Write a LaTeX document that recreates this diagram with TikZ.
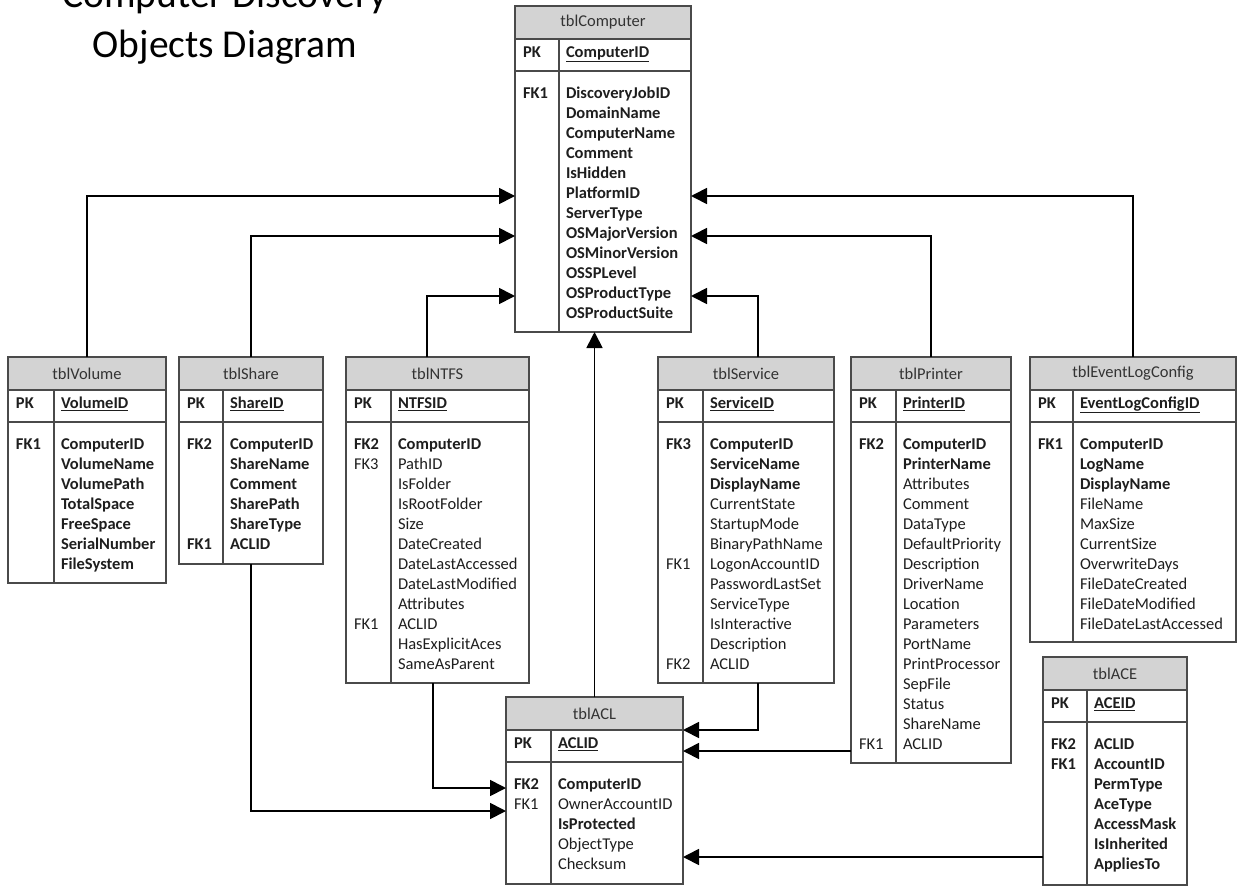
\documentclass[tikz,border=0pt]{standalone}
\usepackage{fontspec}
\setmainfont{Carlito}
\usetikzlibrary{arrows.meta,calc}
\definecolor{hdrgray}{HTML}{D3D3D3}
\definecolor{bordergray}{HTML}{4A4A4A}
\definecolor{txtgray}{HTML}{1E1E1E}
\def\fwb{\fontsize{16.5}{20}\selectfont\bfseries}
\def\fwn{\fontsize{16.5}{20}\selectfont\mdseries}
\tikzset{
  txt/.style={anchor=mid west, inner sep=0pt, outer sep=0pt, text=txtgray},
  hdrbox/.style={draw=bordergray, line width=1.2pt, fill=hdrgray, minimum height=33pt, inner sep=0pt, outer sep=0pt, text=black!80, font=\fwn},
  tblbox/.style={draw=bordergray, line width=1.2pt, inner sep=0pt, outer sep=0pt},
  tblline/.style={draw=bordergray, line width=1.2pt},
  conn/.style={line width=1.7pt, black, -{Triangle[length=16pt,width=16pt]}}
}
% name, L, T, R, B, divider x, title, pk field, fields
\newcommand\erdtable[9]{%
  \node[hdrbox, minimum width={(#4-#2)*1pt}, anchor=north west] (#1-h) at (#2,#3) {#7};
  \node[tblbox, minimum width={(#4-#2)*1pt}, minimum height={(#5-#3)*1pt}, anchor=north west] (#1) at (#2,#3) {};
  \draw[tblline] (#2,#3+65) -- (#4,#3+65);
  \draw[tblline] (#6,#3+33) -- (#6,#5);
  \node[txt, font=\fwb] (#1-pkk) at (#2+8,#3+49) {PK};
  \node[txt, font=\fwb] (#1-pk) at (#6+7,#3+49) {\underline{#8}};
  \foreach \f/\w [count=\i] in {#9} {\node[txt, font=\csname fw\w\endcsname] (#1-r\i) at (#6+7,#3+70+\i*20) {\f};}
}
% table, row, key text, weight
\newcommand\erdkey[4]{%
  \node[txt, font=\csname fw#4\endcsname, xshift=8pt] (#1-k#2) at (#1.west |- #1-r#2.mid) {#3};
}
\begin{document}
\begin{tikzpicture}[x=1pt,y=-1pt]
\useasboundingbox (0,0) rectangle (1239,886);

\node[anchor=base, inner sep=0pt, font=\fontsize{39.5}{48}\selectfont] (title1) at (225,8) {Computer Discovery};
\node[anchor=base, inner sep=0pt, font=\fontsize{39.5}{48}\selectfont] (title2) at (225,57) {Objects Diagram};

\erdtable{comp}{515}{6}{691}{332}{559}{tblComputer}{ComputerID}{DiscoveryJobID/b,DomainName/b,ComputerName/b,Comment/b,IsHidden/b,PlatformID/b,ServerType/b,OSMajorVersion/b,OSMinorVersion/b,OSSPLevel/b,OSProductType/b,OSProductSuite/b}
\erdkey{comp}{1}{FK1}{b}

\erdtable{vol}{8}{357}{166}{583}{54}{tblVolume}{VolumeID}{ComputerID/b,VolumeName/b,VolumePath/b,TotalSpace/b,FreeSpace/b,SerialNumber/b,FileSystem/b}
\erdkey{vol}{1}{FK1}{b}

\erdtable{share}{179}{357}{323}{564}{223}{tblShare}{ShareID}{ComputerID/b,ShareName/b,Comment/b,SharePath/b,ShareType/b,ACLID/b}
\erdkey{share}{1}{FK2}{b}
\erdkey{share}{6}{FK1}{b}

\erdtable{ntfs}{346}{357}{529}{683}{391}{tblNTFS}{NTFSID}{ComputerID/b,PathID/n,IsFolder/n,IsRootFolder/n,Size/n,DateCreated/n,DateLastAccessed/n,DateLastModified/n,Attributes/n,ACLID/n,HasExplicitAces/n,SameAsParent/n}
\erdkey{ntfs}{1}{FK2}{b}
\erdkey{ntfs}{2}{FK3}{n}
\erdkey{ntfs}{10}{FK1}{n}

\erdtable{svc}{658}{357}{834}{683}{703}{tblService}{ServiceID}{ComputerID/b,ServiceName/b,DisplayName/b,CurrentState/n,StartupMode/n,BinaryPathName/n,LogonAccountID/n,PasswordLastSet/n,ServiceType/n,IsInteractive/n,Description/n,ACLID/n}
\erdkey{svc}{1}{FK3}{b}
\erdkey{svc}{7}{FK1}{n}
\erdkey{svc}{12}{FK2}{n}

\erdtable{prn}{851}{357}{1011}{763}{896}{tblPrinter}{PrinterID}{ComputerID/b,PrinterName/b,Attributes/n,Comment/n,DataType/n,DefaultPriority/n,Description/n,DriverName/n,Location/n,Parameters/n,PortName/n,PrintProcessor/n,SepFile/n,Status/n,ShareName/n,ACLID/n}
\erdkey{prn}{1}{FK2}{b}
\erdkey{prn}{16}{FK1}{n}

\erdtable{evt}{1030}{357}{1236}{642}{1073}{tblEventLogConfig}{EventLogConfigID}{ComputerID/b,LogName/b,DisplayName/b,FileName/n,MaxSize/n,CurrentSize/n,OverwriteDays/n,FileDateCreated/n,FileDateModified/n,FileDateLastAccessed/n}
\erdkey{evt}{1}{FK1}{b}

\erdtable{ace}{1043}{657}{1187}{885}{1087}{tblACE}{ACEID}{ACLID/b,AccountID/b,PermType/b,AceType/b,AccessMask/b,IsInherited/b,AppliesTo/b}
\erdkey{ace}{1}{FK2}{b}
\erdkey{ace}{2}{FK1}{b}

\erdtable{acl}{506}{697}{683}{884}{551}{tblACL}{ACLID}{ComputerID/b,OwnerAccountID/n,IsProtected/b,ObjectType/n,Checksum/n}
\erdkey{acl}{1}{FK2}{b}
\erdkey{acl}{2}{FK1}{n}

% connectors to tblComputer
\draw[conn] (vol.north) |- (comp.west |- comp-r6.mid);
\draw[conn] (share.north) |- (comp.west |- comp-r8.mid);
\draw[conn] ($(ntfs.north)+(-10.5,0)$) |- (comp.west |- comp-r11.mid);
\draw[conn] ($(svc.north)+(12,0)$) |- (comp.east |- comp-r11.mid);
\draw[conn] (prn.north) |- (comp.east |- comp-r8.mid);
\draw[conn] (evt.north) |- (comp.east |- comp-r6.mid);
\draw[conn] (acl.north) -- (acl.north |- comp.south);

% connectors to tblACL
\coordinate (acl-fk2) at ($(acl-r1.mid)+(0,1)$);
\coordinate (acl-fk1) at ($(acl-r2.mid)+(0,4)$);
\coordinate (acl-pkin) at ($(acl-pk.mid)+(0,5)$);
\coordinate (acl-acein) at ($(acl-r4.mid)!0.5!(acl-r5.mid)$);
\draw[conn] ($(ntfs.south)+(-4.5,0)$) |- (acl.west |- acl-fk2);
\draw[conn] (share.south) |- (acl.west |- acl-fk1);
\draw[conn] ($(svc.south)+(12,0)$) |- (acl.east |- acl-h.south);
\draw[conn] (prn.west |- acl-pkin) -- (acl.east |- acl-pkin);
\draw[conn] (ace.west |- acl-acein) -- (acl.east |- acl-acein);
\end{tikzpicture}
\end{document}
